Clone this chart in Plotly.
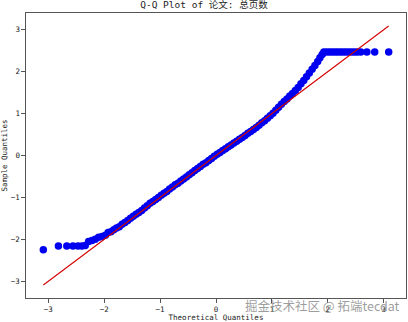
import plotly.graph_objects as go

# Theoretical quantiles (x) and ordered sample quantiles (y)
theoretical_q = [
    -3.09, -2.82, -2.67, -2.56, -2.47, -2.40, -2.34, -2.28, -2.22, -2.16,
    -2.10, -2.04, -1.98, -1.93, -1.88, -1.83, -1.78, -1.73, -1.68, -1.63,
    -1.58, -1.53, -1.48, -1.43, -1.38, -1.33, -1.28, -1.23, -1.18, -1.13,
    -1.08, -1.03, -0.98, -0.93, -0.88, -0.83, -0.78, -0.73, -0.68, -0.63,
    -0.58, -0.53, -0.48, -0.43, -0.38, -0.33, -0.28, -0.23, -0.18, -0.13,
    -0.08, -0.03, 0.02, 0.07, 0.12, 0.17, 0.22, 0.27, 0.32, 0.37,
    0.42, 0.47, 0.52, 0.57, 0.62, 0.67, 0.72, 0.77, 0.82, 0.87,
    0.92, 0.97, 1.02, 1.07, 1.12, 1.17, 1.22, 1.27, 1.32, 1.37,
    1.42, 1.47, 1.52, 1.57, 1.62, 1.67, 1.72, 1.77, 1.82, 1.86,
    1.90, 1.93, 1.98, 2.03, 2.08, 2.13, 2.18, 2.23, 2.28, 2.33,
    2.38, 2.43, 2.48, 2.53, 2.59, 2.70, 2.84, 3.09,
]
sample_q = [
    -2.25, -2.16, -2.16, -2.16, -2.16, -2.16, -2.15, -2.05, -2.03, -2.00,
    -1.95, -1.93, -1.90, -1.84, -1.82, -1.77, -1.73, -1.70, -1.64, -1.60,
    -1.55, -1.50, -1.45, -1.40, -1.36, -1.31, -1.25, -1.20, -1.14, -1.10,
    -1.05, -1.00, -0.95, -0.90, -0.86, -0.80, -0.75, -0.70, -0.66, -0.61,
    -0.56, -0.51, -0.46, -0.41, -0.36, -0.31, -0.26, -0.21, -0.17, -0.12,
    -0.07, -0.02, 0.03, 0.07, 0.12, 0.16, 0.21, 0.25, 0.30, 0.34,
    0.39, 0.43, 0.48, 0.53, 0.57, 0.62, 0.67, 0.72, 0.78, 0.83,
    0.89, 0.95, 1.01, 1.08, 1.15, 1.22, 1.29, 1.35, 1.42, 1.48,
    1.55, 1.62, 1.71, 1.79, 1.88, 1.97, 2.06, 2.15, 2.24, 2.33,
    2.41, 2.47, 2.47, 2.47, 2.47, 2.47, 2.47, 2.47, 2.47, 2.47,
    2.47, 2.47, 2.47, 2.47, 2.47, 2.47, 2.47, 2.47,
]
# Fitted reference line
fit_slope = 1.0
fit_intercept = 0.0
line_x = [min(theoretical_q), max(theoretical_q)]
line_y = [fit_slope * v + fit_intercept for v in line_x]

tick_vals = [-3, -2, -1, 0, 1, 2, 3]
tick_text = ["−3", "−2", "−1", "0", "1", "2", "3"]

title_text = "Q-Q Plot of 论文: 总页数"
x_title = "Theoretical Quantiles"
y_title = "Sample Quantiles"
watermark = "掘金技术社区 @ 拓端tecdat"

FONT = "DejaVu Sans Mono, Noto Sans CJK SC, sans-serif"

fig = go.Figure()
fig.add_trace(go.Scatter(
    x=theoretical_q, y=sample_q, mode="markers",
    marker=dict(color="#0000f0", size=7.5, line=dict(width=0)),
    showlegend=False, hoverinfo="skip",
))
fig.add_trace(go.Scatter(
    x=line_x, y=line_y, mode="lines",
    line=dict(color="#d40000", width=1.1),
    showlegend=False, hoverinfo="skip",
))

axis_common = dict(
    range=[-3.4, 3.4], tickvals=tick_vals, ticktext=tick_text,
    showgrid=False, zeroline=False,
    showline=True, mirror=True, linecolor="#555555", linewidth=1.2,
    ticks="outside", ticklen=3.5, tickwidth=1, tickcolor="#555555",
    tickfont=dict(family=FONT, size=7.5, color="#222222"),
)

fig.update_layout(
    width=408, height=322,
    margin=dict(l=26, r=2, t=13, b=24),
    paper_bgcolor="white", plot_bgcolor="white",
    title=dict(text=title_text, x=0.5, xanchor="center", y=0.984, yanchor="middle",
               font=dict(family=FONT, size=9.5, color="#222222")),
    xaxis=dict(**axis_common,
               title=dict(text=x_title, standoff=2,
                          font=dict(family=FONT, size=7.5, color="#222222"))),
    yaxis=dict(**axis_common,
               title=dict(text=y_title, standoff=4,
                          font=dict(family=FONT, size=7.5, color="#222222"))),
    annotations=[dict(
        text=watermark, xref="paper", yref="paper", x=0.99, y=-0.0246,
        xanchor="right", yanchor="middle", showarrow=False,
        font=dict(family="Noto Sans CJK SC, sans-serif", size=12.5, color="rgba(140,140,140,0.85)"),
    )],
)

fig.write_html("out.html")
